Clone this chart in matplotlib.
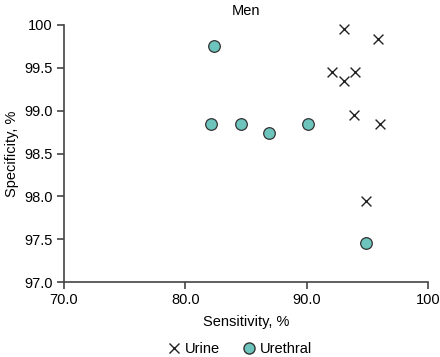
import matplotlib
matplotlib.use("Agg")
import matplotlib.pyplot as plt
from matplotlib.lines import Line2D

plt.rcParams["font.family"] = ["Liberation Sans", "DejaVu Sans"]

# data
urine_sens = [93.1, 95.9, 92.1, 93.1, 94.0, 93.9, 96.0, 94.9]
urine_spec = [99.95, 99.84, 99.45, 99.35, 99.45, 98.95, 98.85, 97.95]
urethral_sens = [82.4, 82.1, 84.6, 86.9, 90.1, 94.9]
urethral_spec = [99.76, 98.85, 98.85, 98.74, 98.85, 97.45]

x_ticks = [70, 80, 90, 100]
x_labels = ["70.0", "80.0", "90.0", "100"]
y_ticks = [97.0, 97.5, 98.0, 98.5, 99.0, 99.5, 100]
y_labels = ["97.0", "97.5", "98.0", "98.5", "99.0", "99.5", "100"]

teal = "#6cc4bd"
fs = 10.5

fig = plt.figure(figsize=(4.4, 3.57), dpi=100, facecolor="white")
ax = fig.add_axes([0.145, 0.21, 0.828, 0.72])

ax.scatter(urine_sens, urine_spec, marker="x", s=50, color="#222222",
           linewidths=1.0, zorder=3, clip_on=False)
ax.scatter(urethral_sens, urethral_spec, marker="o", s=70, facecolor=teal,
           edgecolor="#333333", linewidths=0.9, zorder=3, clip_on=False)

ax.set_xlim(70, 100)
ax.set_ylim(97, 100)
ax.set_xticks(x_ticks)
ax.set_xticklabels(x_labels)
ax.set_yticks(y_ticks)
ax.set_yticklabels(y_labels)
ax.tick_params(direction="out", length=5, width=1.2, labelsize=fs,
               color="#444444", pad=3)
for s in ["top", "right"]:
    ax.spines[s].set_visible(False)
for s in ["left", "bottom"]:
    ax.spines[s].set_linewidth(1.2)
    ax.spines[s].set_color("#444444")

ax.set_xlabel("Sensitivity, %", fontsize=fs, labelpad=6)
ax.set_ylabel("Specificity, %", fontsize=fs, labelpad=4)
ax.set_title("Men", fontsize=fs, pad=7)

handles = [
    Line2D([], [], marker="x", linestyle="none", color="#222222",
           markersize=7, markeredgewidth=1.0, label="Urine"),
    Line2D([], [], marker="o", linestyle="none", markerfacecolor=teal,
           markeredgecolor="#333333", markersize=8, label="Urethral"),
]
fig.legend(handles=handles, loc="lower center", bbox_to_anchor=(0.54, -0.035),
           ncol=2, frameon=False, fontsize=fs, handletextpad=0.0,
           columnspacing=1.2, handlelength=1.5)

fig.savefig("out.png", dpi=100, facecolor="white")
